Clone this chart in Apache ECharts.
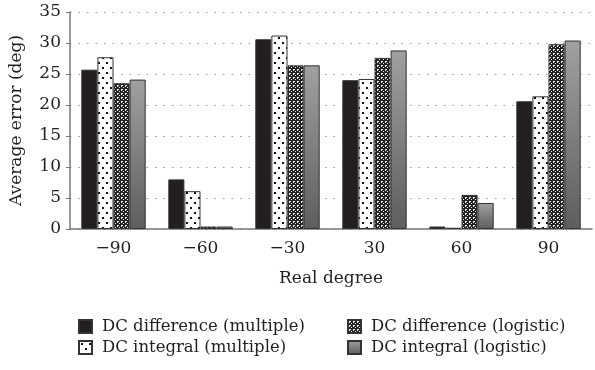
<!DOCTYPE html>
<html>
<head>
<meta charset="utf-8">
<script src="https://cdn.jsdelivr.net/npm/echarts@6/dist/echarts.min.js"></script>
<style>html,body{margin:0;padding:0;background:#fff}#c{width:595px;height:370px}</style>
</head>
<body>
<div id="c"></div>
<script>
const categories = ['\u221290', '\u221260', '\u221230', '30', '60', '90'];
const seriesNames = ['DC difference (multiple)', 'DC integral (multiple)', 'DC difference (logistic)', 'DC integral (logistic)'];
const diffMultiple = [25.7, 8.0, 30.6, 24.0, 0.4, 20.6];
const integralMultiple = [27.7, 6.1, 31.2, 24.2, 0.2, 21.4];
const diffLogistic = [23.5, 0.4, 26.4, 27.6, 5.5, 29.8];
const integralLogistic = [24.1, 0.4, 26.4, 28.8, 4.2, 30.4];
const yTicks = [0, 5, 10, 15, 20, 25, 30, 35];

function tile(w, h, draw) {
  const c = document.createElement('canvas');
  c.width = w; c.height = h;
  draw(c.getContext('2d'));
  return c;
}
const dotTile = tile(8, 10, g => {
  g.fillStyle = '#fff'; g.fillRect(0, 0, 8, 10);
  g.fillStyle = '#111'; g.fillRect(2, 2, 2, 2); g.fillRect(6, 7, 2, 2);
});
const checkTile = tile(4, 4, g => {
  g.fillStyle = '#222'; g.fillRect(0, 0, 4, 4);
  g.fillStyle = '#eee'; g.fillRect(1, 1, 2, 1); g.fillRect(1, 2, 1, 1);
  g.fillRect(3, 3, 1, 1);
});
const grad = new echarts.graphic.LinearGradient(0, 0, 0, 1, [
  {offset: 0, color: '#a0a0a0'}, {offset: 1, color: '#5e5e5e'}
]);
const fills = ['#231f20', {image: dotTile, repeat: 'repeat'}, {image: checkTile, repeat: 'repeat'}, grad];
const dataArr = [diffMultiple, integralMultiple, diffLogistic, integralLogistic];
const font = 'DejaVu Serif';
const txt = '#231f20';

const legendCommon = {
  orient: 'vertical', top: 313, itemWidth: 13, itemHeight: 13, itemGap: 4, icon: 'rect',
  textStyle: {fontFamily: font, fontSize: 16.5, color: txt, padding: [0, 0, 0, 5]},
  selectedMode: false
};

const chart = echarts.init(document.getElementById('c'), null, {renderer: 'canvas'});
chart.setOption({
  animation: false,
  textStyle: {fontFamily: font},
  grid: {left: 70, right: 3, top: 12, bottom: 141, containLabel: false},
  legend: [
    Object.assign({data: [seriesNames[0], seriesNames[1]], left: 73}, legendCommon),
    Object.assign({data: [seriesNames[2], seriesNames[3]], left: 342}, legendCommon)
  ],
  xAxis: {
    type: 'category', data: categories,
    name: 'Real degree', nameLocation: 'middle', nameGap: 41,
    nameTextStyle: {fontFamily: font, fontSize: 17, color: txt},
    axisLine: {lineStyle: {color: '#777', width: 1.5}},
    axisTick: {show: false},
    axisLabel: {fontFamily: font, fontSize: 17, color: txt, margin: 11}
  },
  yAxis: {
    type: 'value', min: 0, max: 35, interval: 5,
    name: 'Average error (deg)', nameLocation: 'middle', nameGap: 45,
    nameTextStyle: {fontFamily: font, fontSize: 17, color: txt},
    axisLine: {show: true, lineStyle: {color: '#777', width: 1.5}},
    axisTick: {show: true, length: 4, inside: false, lineStyle: {color: '#777'}},
    axisLabel: {fontFamily: font, fontSize: 17, color: txt, margin: 9,
      formatter: v => yTicks.includes(v) ? String(v) : ''},
    splitLine: {show: true, lineStyle: {color: '#999', type: [1.5, 7], width: 1}}
  },
  series: dataArr.map((d, i) => ({
    name: seriesNames[i], type: 'bar', data: d,
    barGap: '0%', barCategoryGap: '26%',
    itemStyle: {color: fills[i], borderColor: '#333', borderWidth: 1}
  }))
});
</script>
</body>
</html>
